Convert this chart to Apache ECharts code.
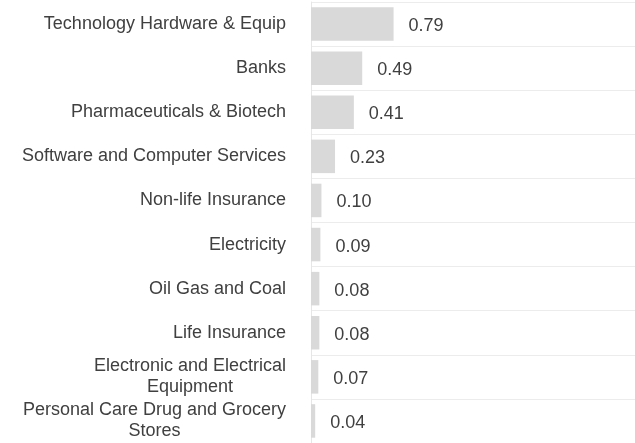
<!DOCTYPE html>
<html lang="en" style="height: 100%">
<head>
  <meta charset="utf-8">
  <style>
    body { margin: 0; background: #fff; }
  </style>
</head>
<body style="height: 100%; margin: 0">
  <div id="container" style="width: 635px; height: 443px"></div>

  <script type="text/javascript" src="https://cdn.jsdelivr.net/npm/echarts@6/dist/echarts.min.js"></script>
  <script type="text/javascript">
    // sectors, top to bottom
    var sectors = [
      'Technology Hardware & Equip',
      'Banks',
      'Pharmaceuticals & Biotech',
      'Software and Computer Services',
      'Non-life Insurance',
      'Electricity',
      'Oil Gas and Coal',
      'Life Insurance',
      'Electronic and Electrical Equipment',
      'Personal Care Drug and Grocery Stores'
    ];
    var weights = [0.79, 0.49, 0.41, 0.23, 0.10, 0.09, 0.08, 0.08, 0.07, 0.04];

    var textColor = '#404040';
    var font = '"Liberation Sans", Arial, sans-serif';

    // wrap long names on word boundaries, max 30 chars per line
    function wrap(name) {
      var words = name.split(' '), lines = [], cur = '';
      words.forEach(function (w) {
        var next = cur ? cur + ' ' + w : w;
        if (next.length > 30 && cur) { lines.push(cur); cur = w; }
        else cur = next;
      });
      lines.push(cur);
      return lines.map(function (l) { return '{c|' + l + '}'; }).join('\n');
    }

    var myChart = echarts.init(document.getElementById('container'), null, { renderer: 'canvas' });

    var option = {
      animation: false,
      grid: { left: 311, right: 0, top: 2, height: 445, containLabel: false },
      xAxis: {
        type: 'value',
        min: 0,
        max: 3.1,
        show: false
      },
      yAxis: {
        type: 'category',
        inverse: true,
        data: sectors,
        axisTick: { show: false },
        axisLine: { show: true, lineStyle: { color: '#e6e6e6', width: 1 } },
        splitLine: { show: true, lineStyle: { color: '#ececec', width: 1 } },
        axisLabel: {
          color: textColor,
          fontSize: 18,
          fontFamily: font,
          margin: 25,
          align: 'right',
          formatter: wrap,
          rich: {
            c: {
              align: 'center',
              color: textColor,
              fontSize: 18,
              fontFamily: font,
              lineHeight: 21
            }
          }
        }
      },
      series: [{
        type: 'bar',
        data: weights,
        barCategoryGap: '24%',
        itemStyle: { color: '#d9d9d9' },
        label: {
          show: true,
          position: 'right',
          distance: 15,
          offset: [0, 2],
          color: textColor,
          fontSize: 18,
          fontFamily: font,
          formatter: function (p) { return p.value.toFixed(2); }
        }
      }]
    };

    myChart.setOption(option);
    window.addEventListener('resize', myChart.resize);
  </script>
</body>
</html>
